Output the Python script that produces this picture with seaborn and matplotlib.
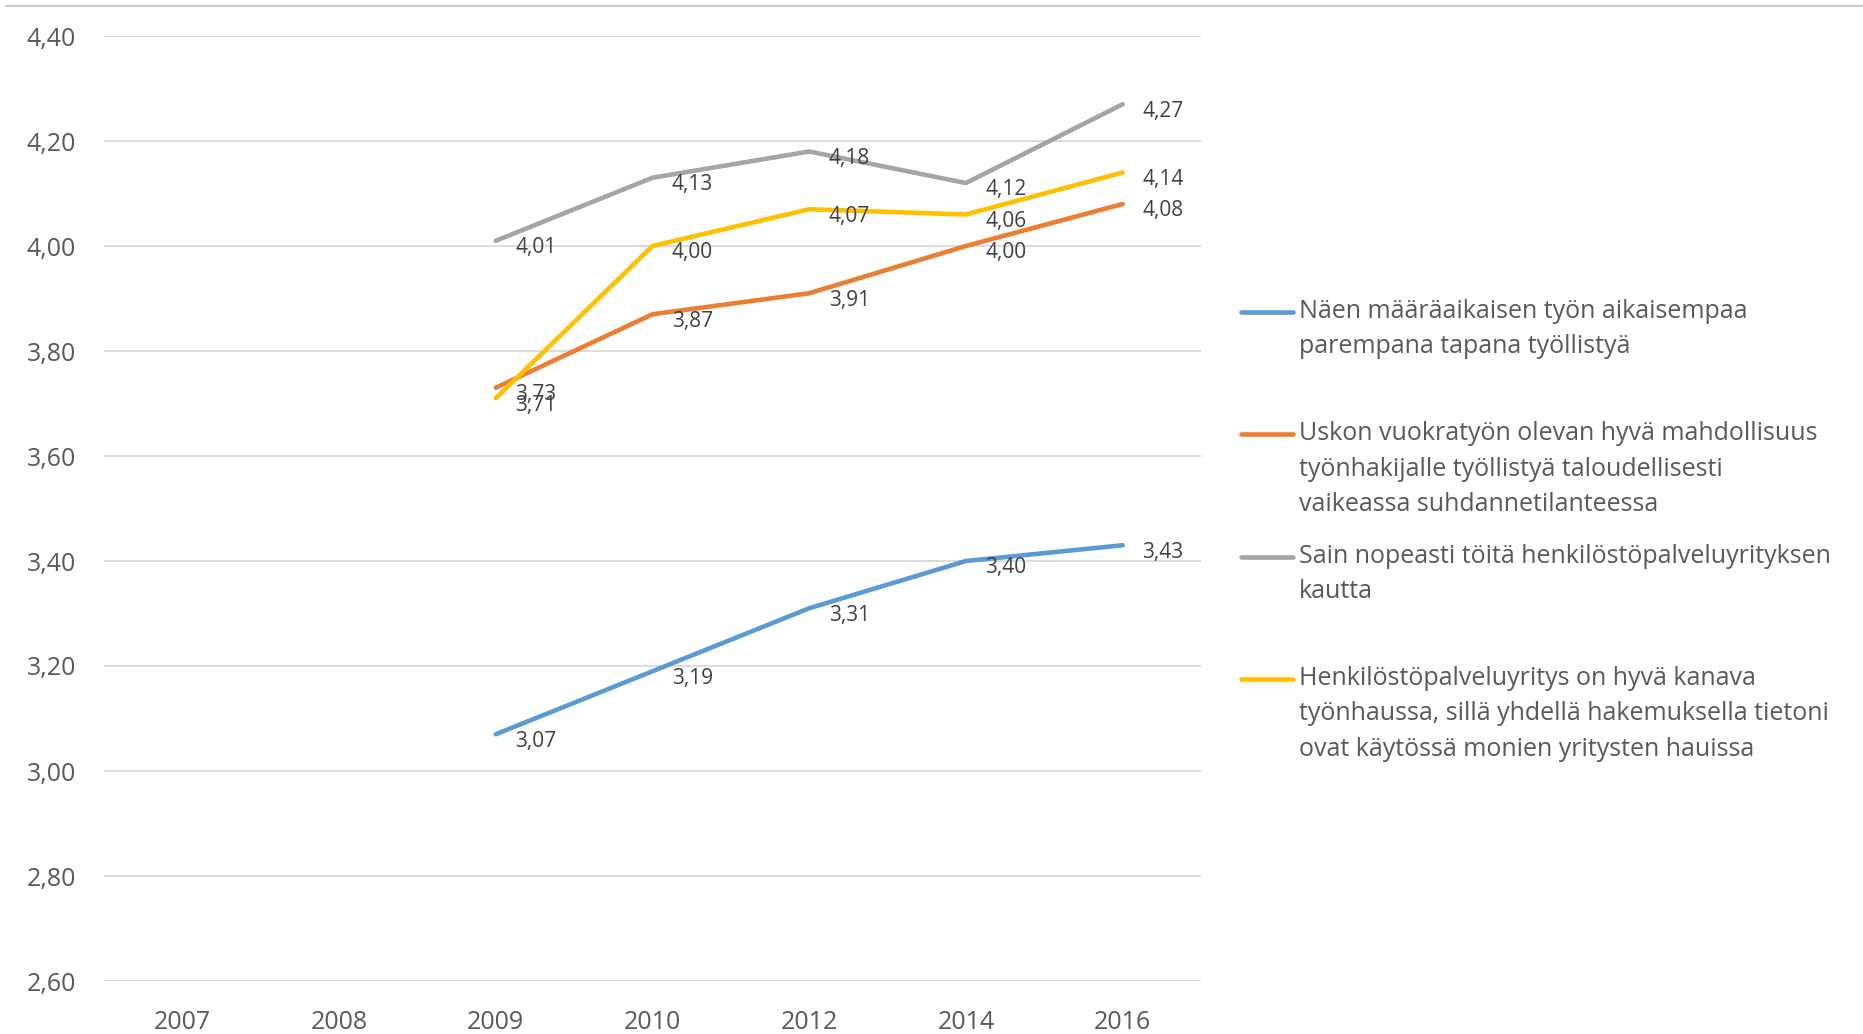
import pandas as pd
import seaborn as sns
import matplotlib.pyplot as plt
from matplotlib.lines import Line2D

# categories / values
years = ["2007", "2008", "2009", "2010", "2012", "2014", "2016"]
data_years = ["2009", "2010", "2012", "2014", "2016"]

maaraaikainen = [3.07, 3.19, 3.31, 3.40, 3.43]
vuokratyo = [3.73, 3.87, 3.91, 4.00, 4.08]
nopeasti = [4.01, 4.13, 4.18, 4.12, 4.27]
kanava = [3.71, 4.00, 4.07, 4.06, 4.14]

series_names = [
    "Näen määräaikaisen työn aikaisempaa\nparempana tapana työllistyä",
    "Uskon vuokratyön olevan hyvä mahdollisuus\ntyönhakijalle työllistyä taloudellisesti\nvaikeassa suhdannetilanteessa",
    "Sain nopeasti töitä henkilöstöpalveluyrityksen\nkautta",
    "Henkilöstöpalveluyritys on hyvä kanava\ntyönhaussa, sillä yhdellä hakemuksella tietoni\novat käytössä monien yritysten hauissa",
]
y_ticks = [2.60, 2.80, 3.00, 3.20, 3.40, 3.60, 3.80, 4.00, 4.20, 4.40]

colors = ["#5B9BD5", "#ED7D31", "#A5A5A5", "#FFC000"]

rows = []
for name, vals in zip(series_names, [maaraaikainen, vuokratyo, nopeasti, kanava]):
    for yr, v in zip(data_years, vals):
        rows.append({"series": name, "year": yr, "value": v})
df = pd.DataFrame(rows)
df["pos"] = df["year"].map(years.index)

sns.set_style("white")
plt.rcParams["font.family"] = ["Open Sans", "DejaVu Sans"]

W, H = 1863, 1034
fig = plt.figure(figsize=(W / 100, H / 100), dpi=100)
ax = fig.add_axes([104 / W, 53 / H, (1201 - 104) / W, (981 - 36) / H])

sns.lineplot(
    data=df,
    x="pos",
    y="value",
    hue="series",
    hue_order=series_names,
    palette=colors,
    linewidth=3.3,
    legend=False,
    ax=ax,
)

# data labels to the right of the points
for name in series_names:
    sub = df[df["series"] == name]
    for _, r in sub.iterrows():
        ax.annotate(
            f"{r['value']:.2f}".replace(".", ","),
            (r["pos"], r["value"]),
            xytext=(14, -5),
            textcoords="offset points",
            va="center",
            ha="left",
            fontsize=15,
            color="#404040",
        )

ax.set_xlim(-0.5, len(years) - 0.5)
ax.set_ylim(2.60, 4.40)
ax.set_xticks(range(len(years)))
ax.set_xticklabels(years)
ax.set_yticks(y_ticks)
ax.set_yticklabels([f"{v:.2f}".replace(".", ",") for v in y_ticks])
ax.set_xlabel("")
ax.set_ylabel("")
ax.grid(axis="y", color="#D9D9D9", linewidth=1.3)
ax.set_axisbelow(True)
for s in ax.spines.values():
    s.set_visible(False)
ax.tick_params(axis="x", length=0, pad=21, labelsize=18, labelcolor="#595959")
ax.tick_params(axis="y", length=0, pad=20, labelsize=18, labelcolor="#595959")

# legend on the right, entries spaced like the original
for i, (name, col) in enumerate(zip(series_names, colors)):
    yc = 1 - (312 + i * 122.3) / H
    fig.add_artist(Line2D([1241 / W, 1293 / W], [yc, yc], transform=fig.transFigure,
                          color=col, linewidth=3.3))
    fig.text(1299 / W, yc + 13 / H, name, va="top", ha="left", fontsize=18,
             color="#595959", linespacing=1.55)

# thin frame line at the top
fig.add_artist(Line2D([6 / W, 1], [1 - 6 / H, 1 - 6 / H], transform=fig.transFigure,
                      color="#C8C8C8", linewidth=1.5))

fig.savefig("out.png", dpi=100)
